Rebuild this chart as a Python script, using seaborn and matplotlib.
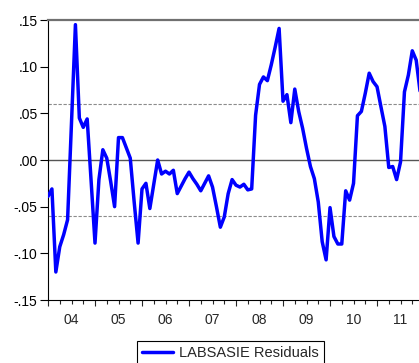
import numpy as np
import matplotlib
matplotlib.use("Agg")
import matplotlib.pyplot as plt
import seaborn as sns

# monthly residuals, 2004M1 onwards
residuals = [
    -0.039, -0.031, -0.120, -0.093, -0.080, -0.064, 0.040, 0.145, 0.045, 0.035, 0.044, -0.022,
    -0.089, -0.021, 0.011, 0.002, -0.023, -0.050, 0.024, 0.024, 0.013, 0.002, -0.045, -0.089,
    -0.031, -0.025, -0.052, -0.026, 0.000, -0.015, -0.012, -0.015, -0.011, -0.036, -0.028, -0.020,
    -0.013, -0.020, -0.026, -0.033, -0.025, -0.017, -0.029, -0.050, -0.072, -0.061, -0.036, -0.021,
    -0.027, -0.029, -0.026, -0.032, -0.031, 0.048, 0.081, 0.089, 0.085, 0.102, 0.121, 0.141,
    0.063, 0.070, 0.040, 0.076, 0.052, 0.034, 0.0125, -0.007, -0.020, -0.045, -0.0875, -0.107,
    -0.051, -0.082, -0.090, -0.090, -0.033, -0.043, -0.025, 0.0475, 0.052, 0.0715, 0.093, 0.084,
    0.0785, 0.057, 0.036, -0.008, -0.007, -0.021, -0.002, 0.073, 0.091, 0.117, 0.107, 0.073,
]
year_labels = ["04", "05", "06", "07", "08", "09", "10", "11"]
y_ticks = [-0.15, -0.10, -0.05, 0.00, 0.05, 0.10, 0.15]
y_labels = ["-.15", "-.10", "-.05", ".00", ".05", ".10", ".15"]
band = 0.06  # +/- 1 S.E. band

sns.set_style("ticks")
plt.rcParams["font.family"] = ["Liberation Sans", "DejaVu Sans"]

months = np.arange(len(residuals))

W, H = 419, 363
fig = plt.figure(figsize=(W / 100, H / 100), dpi=100)
fig.patch.set_facecolor("white")
ax = fig.add_axes([48 / W, 63 / H, 96 * 3.917 / W, 280 / H])

ax.axhline(band, color="#8c8c8c", lw=0.8, ls=(0, (3, 1.5)), zorder=1)
ax.axhline(-band, color="#8c8c8c", lw=0.8, ls=(0, (3, 1.5)), zorder=1)
ax.axhline(0, color="#555555", lw=1.0, zorder=1)

sns.lineplot(x=months, y=residuals, color="#0000ff", lw=2.5,
             label="LABSASIE Residuals", ax=ax, zorder=3)

ax.set_xlim(0, 96)
ax.set_ylim(-0.15, 0.15)
ax.set_yticks(y_ticks)
ax.set_yticklabels(y_labels, fontsize=10)
ax.tick_params(axis="y", direction="out", length=6, width=0.8, pad=1.5, colors="black")

ax.set_xticks(range(0, 97, 12))
ax.set_xticks(range(0, 97, 3), minor=True)
ax.set_xticklabels([])
ax.tick_params(axis="x", which="major", direction="out", length=4.5, width=0.8)
ax.tick_params(axis="x", which="minor", direction="out", length=3, width=0.8)
for k, lab in enumerate(year_labels):
    ax.text(12 * k + 6, -0.045, lab, transform=ax.get_xaxis_transform(),
            ha="center", va="top", fontsize=10)

ax.spines["right"].set_visible(False)
ax.spines["top"].set_color("#707070")
ax.spines["top"].set_linewidth(1.6)
ax.spines["left"].set_color("black")
ax.spines["left"].set_linewidth(0.8)
ax.spines["bottom"].set_color("black")
ax.spines["bottom"].set_linewidth(0.8)
ax.set_xlabel("")
ax.set_ylabel("")

leg = ax.legend(loc="upper left", bbox_to_anchor=(137 / W, 1 - 341 / H),
                bbox_transform=fig.transFigure, borderaxespad=0, fontsize=10.5,
                frameon=True, fancybox=False, edgecolor="black", framealpha=1,
                handlelength=2.1, handletextpad=0.45, borderpad=0.35)
leg.get_frame().set_linewidth(0.8)
for line in leg.get_lines():
    line.set_linewidth(2.5)

fig.savefig("out.png", dpi=100)
